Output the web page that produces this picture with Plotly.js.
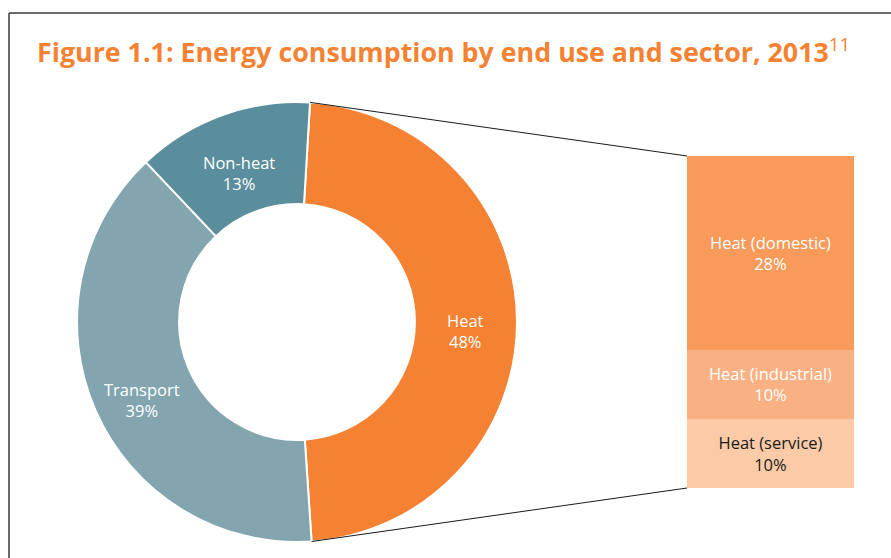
<!DOCTYPE html>
<html>
<head>
<meta charset="utf-8">
<script src="https://cdn.plot.ly/plotly-3.0.1.min.js"></script>
<style>html,body{margin:0;padding:0;background:#fff;}#chart{width:891px;height:558px;}</style>
</head>
<body>
<div id="chart"></div>
<script>
// ---- Data ----
const sectors = ["Heat", "Transport", "Non-heat"];
const sectorValues = [48, 39, 13];
const sectorColors = ["#F58233", "#82A5AF", "#5B8E9C"];

const heatParts = ["Heat (service)", "Heat (industrial)", "Heat (domestic)"];
const heatValues = [10, 10, 28];
const heatColors = ["#FBCAA7", "#F9B083", "#F79A5A"];
const heatTextColors = ["#1a1a1a", "#ffffff", "#ffffff"];

// ---- Layout geometry (pixels) ----
const W = 891, H = 558;
const pieCx = 297, pieCy = 322, pieR = 220, holeFrac = 0.536;
const startAngle = 3.4; // degrees clockwise from 12 o'clock
const barLeft = 687, barRight = 854, barTop = 156, barBottom = 488;
const labelFont = "'Open Sans', sans-serif";
const labelSize = 16.5;

const px = x => x / W;
const py = y => 1 - y / H;

const traces = [];
traces.push({
  type: "pie",
  labels: sectors,
  values: sectorValues,
  sort: false,
  direction: "clockwise",
  rotation: startAngle,
  hole: holeFrac,
  marker: {colors: sectorColors, line: {color: "#ffffff", width: 2}},
  textinfo: "none",
  domain: {x: [px(pieCx - pieR), px(pieCx + pieR)], y: [py(pieCy + pieR), py(pieCy - pieR)]},
  showlegend: false,
  hoverinfo: "label+value"
});

heatParts.forEach((name, i) => {
  traces.push({
    type: "bar",
    x: ["Heat"],
    y: [heatValues[i]],
    name: name,
    marker: {color: heatColors[i], line: {width: 0}},
    text: [name + "<br>" + heatValues[i] + "%"],
    textposition: "inside",
    insidetextanchor: "middle",
    textangle: 0,
    textfont: {family: labelFont, size: labelSize, color: heatTextColors[i]},
    showlegend: false,
    hoverinfo: "name+y"
  });
});

// Slice geometry derived from the data
const total = sectorValues.reduce((a, b) => a + b, 0);
const toRad = d => d * Math.PI / 180;
const edge = (a, r) => [pieCx + r * Math.sin(a), pieCy - r * Math.cos(a)];

const annotations = [];
let acc = startAngle;
sectorValues.forEach((v, i) => {
  const span = v / total * 360;
  const mid = toRad(acc + span / 2);
  const rMid = pieR * (1 + holeFrac) / 2;
  const p = edge(mid, rMid);
  annotations.push({
    xref: "paper", yref: "paper",
    x: px(p[0]), y: py(p[1] + 10),
    xanchor: "center", yanchor: "middle",
    text: sectors[i] + "<br>" + v + "%",
    showarrow: false,
    font: {family: labelFont, size: labelSize, color: "#ffffff"}
  });
  acc += span;
});

const heatShare = sectorValues[0] / total;
const e0 = edge(toRad(startAngle), pieR);
const e1 = edge(toRad(startAngle + heatShare * 360), pieR);

const shapes = [
  {type: "line", xref: "paper", yref: "paper", x0: px(e0[0]), y0: py(e0[1]), x1: px(barLeft), y1: py(barTop), line: {color: "#1a1a1a", width: 1}},
  {type: "line", xref: "paper", yref: "paper", x0: px(e1[0]), y0: py(e1[1]), x1: px(barLeft), y1: py(barBottom), line: {color: "#1a1a1a", width: 1}},
  {type: "line", xref: "paper", yref: "paper", x0: px(9), y0: py(13), x1: px(891), y1: py(13), line: {color: "#3a3a3a", width: 1.5}},
  {type: "line", xref: "paper", yref: "paper", x0: px(9), y0: py(13), x1: px(9), y1: py(558), line: {color: "#3a3a3a", width: 1.5}}
];

const layout = {
  width: W, height: H,
  margin: {l: 0, r: 0, t: 0, b: 0},
  paper_bgcolor: "#ffffff",
  plot_bgcolor: "rgba(0,0,0,0)",
  barmode: "stack",
  bargap: 0,
  title: {
    text: "<b>Figure 1.1: Energy consumption by end use and sector, 2013</b><sup>11</sup>",
    x: px(37), xanchor: "left", xref: "paper",
    y: py(53), yanchor: "middle", yref: "paper",
    font: {family: "'Open Sans', sans-serif", size: 26.8, color: "#F58233"}
  },
  xaxis: {domain: [px(barLeft), px(barRight)], range: [-0.5, 0.5], visible: false, fixedrange: true},
  yaxis: {domain: [py(barBottom), py(barTop)], range: [0, heatValues.reduce((a, b) => a + b, 0)], visible: false, fixedrange: true},
  shapes: shapes,
  annotations: annotations,
  showlegend: false
};

Plotly.newPlot("chart", traces, layout, {displayModeBar: false, staticPlot: true});
</script>
</body>
</html>
